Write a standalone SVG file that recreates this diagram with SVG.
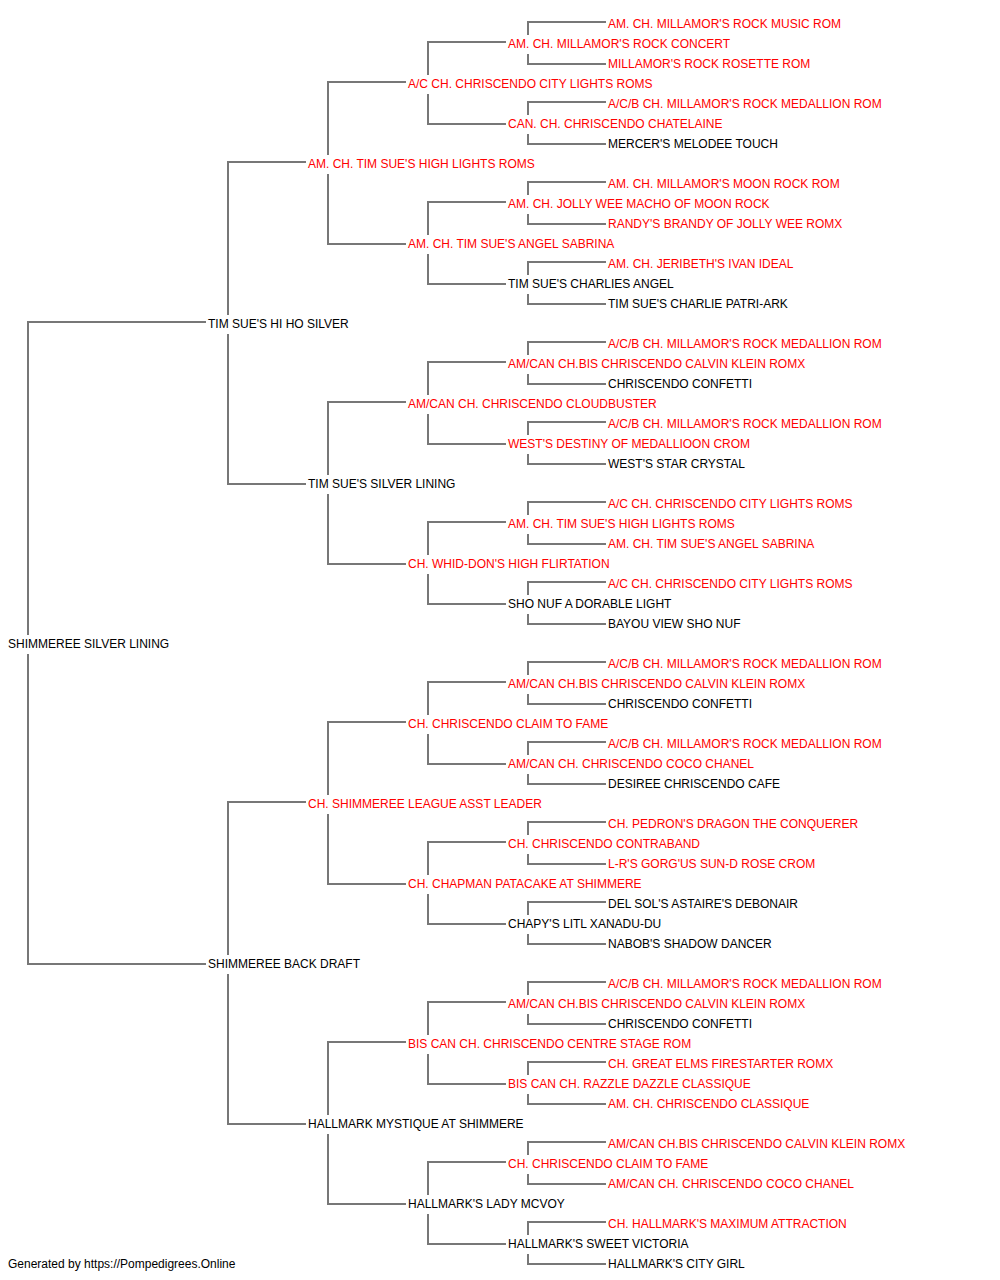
<svg xmlns="http://www.w3.org/2000/svg" width="1000" height="1280" viewBox="0 0 1000 1280">
<style>
text{font-family:"Liberation Sans",Arial,sans-serif;font-size:12px}
.r{fill:#ff0000}
.k{fill:#000000}
.c path{fill:none;stroke:#777777;stroke-width:2;stroke-linejoin:miter}
</style>
<rect width="1000" height="1280" fill="#ffffff"/>
<g id="connectors" class="c">
<path d="M206 322 H28 V635 M28 654 V964 H206"/>
<path d="M306 162 H228 V315 M228 334 V484 H306"/>
<path d="M306 802 H228 V955 M228 974 V1124 H306"/>
<path d="M406 82 H328 V155 M328 174 V244 H406"/>
<path d="M406 402 H328 V475 M328 494 V564 H406"/>
<path d="M406 722 H328 V795 M328 814 V884 H406"/>
<path d="M406 1042 H328 V1115 M328 1134 V1204 H406"/>
<path d="M506 42 H428 V75 M428 94 V124 H506"/>
<path d="M506 202 H428 V235 M428 254 V284 H506"/>
<path d="M506 362 H428 V395 M428 414 V444 H506"/>
<path d="M506 522 H428 V555 M428 574 V604 H506"/>
<path d="M506 682 H428 V715 M428 734 V764 H506"/>
<path d="M506 842 H428 V875 M428 894 V924 H506"/>
<path d="M506 1002 H428 V1035 M428 1054 V1084 H506"/>
<path d="M506 1162 H428 V1195 M428 1214 V1244 H506"/>
<path d="M606 22 H528 V35 M528 54 V64 H606"/>
<path d="M606 102 H528 V115 M528 134 V144 H606"/>
<path d="M606 182 H528 V195 M528 214 V224 H606"/>
<path d="M606 262 H528 V275 M528 294 V304 H606"/>
<path d="M606 342 H528 V355 M528 374 V384 H606"/>
<path d="M606 422 H528 V435 M528 454 V464 H606"/>
<path d="M606 502 H528 V515 M528 534 V544 H606"/>
<path d="M606 582 H528 V595 M528 614 V624 H606"/>
<path d="M606 662 H528 V675 M528 694 V704 H606"/>
<path d="M606 742 H528 V755 M528 774 V784 H606"/>
<path d="M606 822 H528 V835 M528 854 V864 H606"/>
<path d="M606 902 H528 V915 M528 934 V944 H606"/>
<path d="M606 982 H528 V995 M528 1014 V1024 H606"/>
<path d="M606 1062 H528 V1075 M528 1094 V1104 H606"/>
<path d="M606 1142 H528 V1155 M528 1174 V1184 H606"/>
<path d="M606 1222 H528 V1235 M528 1254 V1264 H606"/>
</g>
<g id="root"><text class="k" x="8" y="648">SHIMMEREE SILVER LINING</text></g>
<g id="n1-0"><text class="k" x="208" y="328">TIM SUE'S HI HO SILVER</text></g>
<g id="n1-1"><text class="k" x="208" y="968">SHIMMEREE BACK DRAFT</text></g>
<g id="n2-0"><text class="r" x="308" y="168">AM. CH. TIM SUE'S HIGH LIGHTS ROMS</text></g>
<g id="n2-1"><text class="k" x="308" y="488">TIM SUE'S SILVER LINING</text></g>
<g id="n2-2"><text class="r" x="308" y="808">CH. SHIMMEREE LEAGUE ASST LEADER</text></g>
<g id="n2-3"><text class="k" x="308" y="1128">HALLMARK MYSTIQUE AT SHIMMERE</text></g>
<g id="n3-0"><text class="r" x="408" y="88">A/C CH. CHRISCENDO CITY LIGHTS ROMS</text></g>
<g id="n3-1"><text class="r" x="408" y="248">AM. CH. TIM SUE'S ANGEL SABRINA</text></g>
<g id="n3-2"><text class="r" x="408" y="408">AM/CAN CH. CHRISCENDO CLOUDBUSTER</text></g>
<g id="n3-3"><text class="r" x="408" y="568">CH. WHID-DON'S HIGH FLIRTATION</text></g>
<g id="n3-4"><text class="r" x="408" y="728">CH. CHRISCENDO CLAIM TO FAME</text></g>
<g id="n3-5"><text class="r" x="408" y="888">CH. CHAPMAN PATACAKE AT SHIMMERE</text></g>
<g id="n3-6"><text class="r" x="408" y="1048">BIS CAN CH. CHRISCENDO CENTRE STAGE ROM</text></g>
<g id="n3-7"><text class="k" x="408" y="1208">HALLMARK'S LADY MCVOY</text></g>
<g id="n4-0"><text class="r" x="508" y="48">AM. CH. MILLAMOR'S ROCK CONCERT</text></g>
<g id="n4-1"><text class="r" x="508" y="128">CAN. CH. CHRISCENDO CHATELAINE</text></g>
<g id="n4-2"><text class="r" x="508" y="208">AM. CH. JOLLY WEE MACHO OF MOON ROCK</text></g>
<g id="n4-3"><text class="k" x="508" y="288">TIM SUE'S CHARLIES ANGEL</text></g>
<g id="n4-4"><text class="r" x="508" y="368">AM/CAN CH.BIS CHRISCENDO CALVIN KLEIN ROMX</text></g>
<g id="n4-5"><text class="r" x="508" y="448">WEST'S DESTINY OF MEDALLIOON CROM</text></g>
<g id="n4-6"><text class="r" x="508" y="528">AM. CH. TIM SUE'S HIGH LIGHTS ROMS</text></g>
<g id="n4-7"><text class="k" x="508" y="608">SHO NUF A DORABLE LIGHT</text></g>
<g id="n4-8"><text class="r" x="508" y="688">AM/CAN CH.BIS CHRISCENDO CALVIN KLEIN ROMX</text></g>
<g id="n4-9"><text class="r" x="508" y="768">AM/CAN CH. CHRISCENDO COCO CHANEL</text></g>
<g id="n4-10"><text class="r" x="508" y="848">CH. CHRISCENDO CONTRABAND</text></g>
<g id="n4-11"><text class="k" x="508" y="928">CHAPY'S LITL XANADU-DU</text></g>
<g id="n4-12"><text class="r" x="508" y="1008">AM/CAN CH.BIS CHRISCENDO CALVIN KLEIN ROMX</text></g>
<g id="n4-13"><text class="r" x="508" y="1088">BIS CAN CH. RAZZLE DAZZLE CLASSIQUE</text></g>
<g id="n4-14"><text class="r" x="508" y="1168">CH. CHRISCENDO CLAIM TO FAME</text></g>
<g id="n4-15"><text class="k" x="508" y="1248">HALLMARK'S SWEET VICTORIA</text></g>
<g id="n5-0"><text class="r" x="608" y="28">AM. CH. MILLAMOR'S ROCK MUSIC ROM</text></g>
<g id="n5-1"><text class="r" x="608" y="68">MILLAMOR'S ROCK ROSETTE ROM</text></g>
<g id="n5-2"><text class="r" x="608" y="108">A/C/B CH. MILLAMOR'S ROCK MEDALLION ROM</text></g>
<g id="n5-3"><text class="k" x="608" y="148">MERCER'S MELODEE TOUCH</text></g>
<g id="n5-4"><text class="r" x="608" y="188">AM. CH. MILLAMOR'S MOON ROCK ROM</text></g>
<g id="n5-5"><text class="r" x="608" y="228">RANDY'S BRANDY OF JOLLY WEE ROMX</text></g>
<g id="n5-6"><text class="r" x="608" y="268">AM. CH. JERIBETH'S IVAN IDEAL</text></g>
<g id="n5-7"><text class="k" x="608" y="308">TIM SUE'S CHARLIE PATRI-ARK</text></g>
<g id="n5-8"><text class="r" x="608" y="348">A/C/B CH. MILLAMOR'S ROCK MEDALLION ROM</text></g>
<g id="n5-9"><text class="k" x="608" y="388">CHRISCENDO CONFETTI</text></g>
<g id="n5-10"><text class="r" x="608" y="428">A/C/B CH. MILLAMOR'S ROCK MEDALLION ROM</text></g>
<g id="n5-11"><text class="k" x="608" y="468">WEST'S STAR CRYSTAL</text></g>
<g id="n5-12"><text class="r" x="608" y="508">A/C CH. CHRISCENDO CITY LIGHTS ROMS</text></g>
<g id="n5-13"><text class="r" x="608" y="548">AM. CH. TIM SUE'S ANGEL SABRINA</text></g>
<g id="n5-14"><text class="r" x="608" y="588">A/C CH. CHRISCENDO CITY LIGHTS ROMS</text></g>
<g id="n5-15"><text class="k" x="608" y="628">BAYOU VIEW SHO NUF</text></g>
<g id="n5-16"><text class="r" x="608" y="668">A/C/B CH. MILLAMOR'S ROCK MEDALLION ROM</text></g>
<g id="n5-17"><text class="k" x="608" y="708">CHRISCENDO CONFETTI</text></g>
<g id="n5-18"><text class="r" x="608" y="748">A/C/B CH. MILLAMOR'S ROCK MEDALLION ROM</text></g>
<g id="n5-19"><text class="k" x="608" y="788">DESIREE CHRISCENDO CAFE</text></g>
<g id="n5-20"><text class="r" x="608" y="828">CH. PEDRON'S DRAGON THE CONQUERER</text></g>
<g id="n5-21"><text class="r" x="608" y="868">L-R'S GORG'US SUN-D ROSE CROM</text></g>
<g id="n5-22"><text class="k" x="608" y="908">DEL SOL'S ASTAIRE'S DEBONAIR</text></g>
<g id="n5-23"><text class="k" x="608" y="948">NABOB'S SHADOW DANCER</text></g>
<g id="n5-24"><text class="r" x="608" y="988">A/C/B CH. MILLAMOR'S ROCK MEDALLION ROM</text></g>
<g id="n5-25"><text class="k" x="608" y="1028">CHRISCENDO CONFETTI</text></g>
<g id="n5-26"><text class="r" x="608" y="1068">CH. GREAT ELMS FIRESTARTER ROMX</text></g>
<g id="n5-27"><text class="r" x="608" y="1108">AM. CH. CHRISCENDO CLASSIQUE</text></g>
<g id="n5-28"><text class="r" x="608" y="1148">AM/CAN CH.BIS CHRISCENDO CALVIN KLEIN ROMX</text></g>
<g id="n5-29"><text class="r" x="608" y="1188">AM/CAN CH. CHRISCENDO COCO CHANEL</text></g>
<g id="n5-30"><text class="r" x="608" y="1228">CH. HALLMARK'S MAXIMUM ATTRACTION</text></g>
<g id="n5-31"><text class="k" x="608" y="1268">HALLMARK'S CITY GIRL</text></g>
<g id="footer"><text class="k" x="8" y="1268">Generated by https://Pompedigrees.Online</text></g>
</svg>
